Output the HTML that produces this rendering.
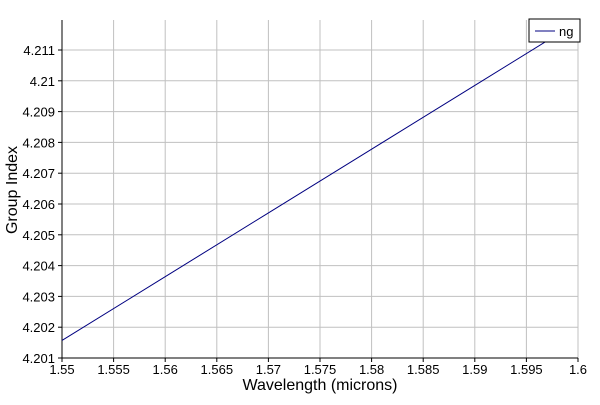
<!DOCTYPE html>
<html><head><meta charset="utf-8"><style>
body{margin:0;background:#fff}
svg text{font-family:"Liberation Sans",sans-serif;fill:#000}
</style></head><body>
<svg width="600" height="400">
<g id="grid"></g>
<g id="axes"></g>
<g id="series"></g>
<g>
<rect x="529" y="19" width="51" height="23" fill="#fff" stroke="#000"/>
<line x1="535" y1="31" x2="555" y2="31" stroke="#000080"/>
<text x="559" y="36" font-size="13">ng</text>
</g>
<text x="320" y="390" font-size="16" text-anchor="middle">Wavelength (microns)</text>
<text transform="translate(17,190) rotate(-90)" font-size="16" text-anchor="middle">Group Index</text>
</svg>
<script>
const xTicks=[1.55,1.555,1.56,1.565,1.57,1.575,1.58,1.585,1.59,1.595,1.6];
const xTickLabels=["1.55","1.555","1.56","1.565","1.57","1.575","1.58","1.585","1.59","1.595","1.6"];
const yTicks=[4.201,4.202,4.203,4.204,4.205,4.206,4.207,4.208,4.209,4.21,4.211];
const yTickLabels=["4.201","4.202","4.203","4.204","4.205","4.206","4.207","4.208","4.209","4.21","4.211"];
const wavelengths=[1.55,1.56,1.57,1.58,1.59,1.6];
const ng=[4.20157,4.20364,4.20571,4.20778,4.20985,4.21192];
const L=62,R=578,T=20,B=358;
const xs=v=>L+(v-1.55)/0.05*(R-L);
const ys=v=>B-(v-4.201)/0.001*30.8;
const NS="http://www.w3.org/2000/svg";
function mk(t,a,p){const e=document.createElementNS(NS,t);for(const k in a)e.setAttribute(k,a[k]);p.appendChild(e);return e;}
const g=document.getElementById('grid'),ax=document.getElementById('axes'),s=document.getElementById('series');
xTicks.forEach((v,i)=>{const x=xs(v);
 if(i>0){const l=mk('line',{x1:x,y1:T,x2:x,y2:B,stroke:'#c0c0c0'},g);
 
 }
 const tk=mk('line',{x1:x,y1:B,x2:x,y2:B+4,stroke:'#000'},ax);
 
 
 const t=mk('text',{x:x,y:B+16,'font-size':13,'text-anchor':'middle'},ax);t.textContent=xTickLabels[i];
 
 });
yTicks.forEach((v,i)=>{const y=ys(v);
 if(i>0){const l=mk('line',{x1:L,y1:y,x2:R,y2:y,stroke:'#c0c0c0'},g);
 
 }
 const tk=mk('line',{x1:L-4,y1:y,x2:L,y2:y,stroke:'#000'},ax);
 
 
 const t=mk('text',{x:L-7,y:y+5,'font-size':13,'text-anchor':'end'},ax);t.textContent=yTickLabels[i];
 
 });
const xa=mk('line',{x1:L,y1:B,x2:R,y2:B,stroke:'#000'},ax);


const ya=mk('line',{x1:L,y1:T,x2:L,y2:B,stroke:'#000'},ax);


const pl=mk('polyline',{points:wavelengths.map((w,i)=>xs(w)+','+ys(ng[i])).join(' '),fill:'none',stroke:'#000080'},s);


</script>
</body></html>
